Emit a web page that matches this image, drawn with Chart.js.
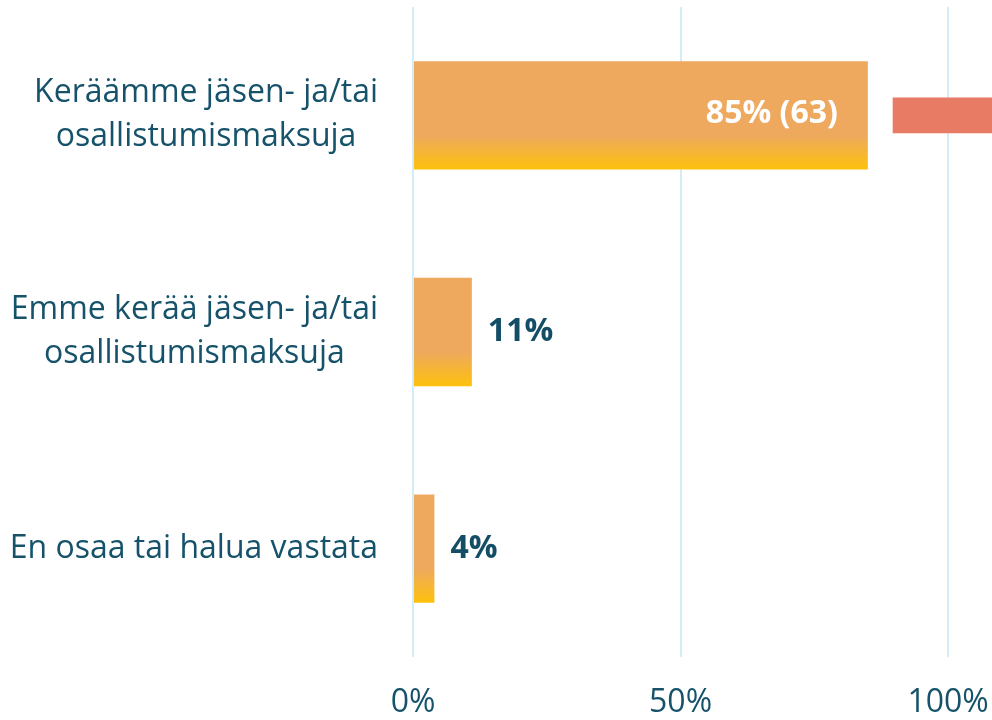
<!DOCTYPE html>
<html>
<head>
<meta charset="utf-8">
<script src="https://cdn.jsdelivr.net/npm/chart.js@4/dist/chart.umd.min.js"></script>
<style>
  html, body { margin: 0; padding: 0; background: #fff; }
  #wrap { width: 992px; height: 720px; }
</style>
</head>
<body>
<div id="wrap"><canvas id="myChart"></canvas></div>
<script>
// data
const kategoriat = [
    ['Keräämme jäsen- ja/tai', 'osallistumismaksuja'],
    ['Emme kerää jäsen- ja/tai', 'osallistumismaksuja'],
    ['En osaa tai halua vastata']
];
const prosentit = [85, 11, 4];
const lukumaarat = [63, null, null];
const merkki = [[89.7, 120], null, null]; // punainen laatikko oikealla
const tikit = [0, 50, 100];

const tekstiVari = '#16536b';
const fontti = "'Open Sans', 'Noto Sans', sans-serif";

// liukuväri palkeille
function palkkiVari(context) {
    const chart = context.chart;
    const area = chart.chartArea;
    if (!area) return '#eea95f';
    const y = chart.scales.y.getPixelForValue(context.dataIndex);
    const puoli = (area.height / kategoriat.length) * 0.5 / 2;
    const g = chart.ctx.createLinearGradient(0, y - puoli, 0, y + puoli);
    g.addColorStop(0, '#eea95f');
    g.addColorStop(0.68, '#eea95f');
    g.addColorStop(1, '#fdc10c');
    return g;
}

// kategoriat vasemmalle, rivit keskitettyinä lohkon sisällä
const kategoriaTekstit = {
    id: 'kategoriaTekstit',
    afterDraw(chart) {
        const ctx = chart.ctx;
        const y = chart.scales.y;
        const oikea = chart.chartArea.left - 35;
        const riviKorkeus = 44;
        ctx.save();
        ctx.font = '32px ' + fontti;
        ctx.fillStyle = tekstiVari;
        ctx.textAlign = 'center';
        ctx.textBaseline = 'middle';
        kategoriat.forEach((rivit, i) => {
            const leveys = Math.max(...rivit.map(r => ctx.measureText(r).width));
            const keski = oikea - leveys / 2;
            const yk = y.getPixelForTick(i);
            const alku = yk - (rivit.length - 1) * riviKorkeus / 2;
            rivit.forEach((r, j) => ctx.fillText(r, keski, alku + j * riviKorkeus));
        });
        ctx.restore();
    }
};

// arvot palkkien päähän
const arvoTekstit = {
    id: 'arvoTekstit',
    afterDatasetsDraw(chart) {
        const ctx = chart.ctx;
        const meta = chart.getDatasetMeta(0);
        ctx.save();
        ctx.font = 'bold 32px ' + fontti;
        ctx.textBaseline = 'middle';
        meta.data.forEach((bar, i) => {
            let teksti = prosentit[i] + '%';
            if (lukumaarat[i] !== null) teksti += ' (' + lukumaarat[i] + ')';
            if (prosentit[i] > 50) {
                ctx.fillStyle = '#ffffff';
                ctx.textAlign = 'right';
                ctx.fillText(teksti, bar.x - 30, bar.y - 1);
            } else {
                ctx.fillStyle = '#134e66';
                ctx.textAlign = 'left';
                ctx.fillText(teksti, bar.x + 16, bar.y);
            }
        });
        ctx.restore();
    }
};

const data = {
    labels: kategoriat,
    datasets: [{
        label: 'Vastaukset',
        data: prosentit,
        backgroundColor: palkkiVari,
        categoryPercentage: 1,
        barPercentage: 0.5,
        order: 2
    }, {
        label: 'merkki',
        data: merkki,
        backgroundColor: '#e87b63',
        barThickness: 35,
        order: 1
    }]
};

const options = {
    indexAxis: 'y',
    responsive: true,
    maintainAspectRatio: false,
    animation: false,
    events: [],
    grouped: false,
    layout: { padding: { top: 7, left: 0, right: 0, bottom: 0 } },
    plugins: {
        legend: { display: false },
        tooltip: { enabled: false }
    },
    scales: {
        x: {
            min: 0,
            max: 108.2,
            afterBuildTicks: (scale) => { scale.ticks = tikit.map(v => ({ value: v })); },
            afterFit: (scale) => {
                scale.height = 63;
                scale.paddingRight = 0;
                scale.paddingLeft = 0;
            },
            border: { display: false },
            grid: { color: '#d3edf8', lineWidth: 2, drawTicks: false },
            ticks: {
                padding: 27,
                color: tekstiVari,
                font: { family: fontti, size: 32 },
                callback: (v) => v + '%'
            }
        },
        y: {
            afterFit: (scale) => { scale.width = 413; },
            border: { display: false },
            grid: { display: false },
            ticks: { display: false }
        }
    }
};

const config = {
    type: 'bar',
    data: data,
    options: options,
    plugins: [kategoriaTekstit, arvoTekstit]
};

const myChart = new Chart(document.getElementById('myChart'), config);
</script>
</body>
</html>
